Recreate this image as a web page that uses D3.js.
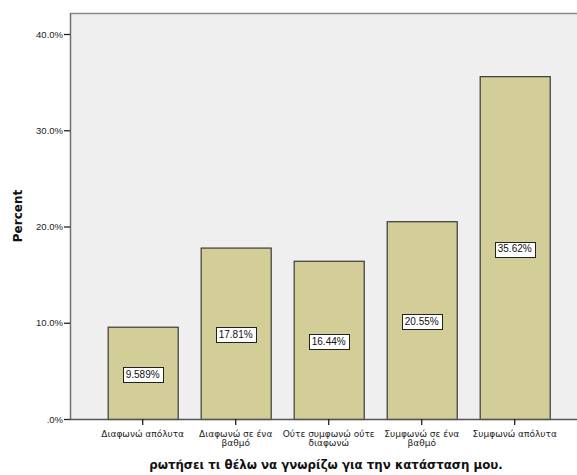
<!DOCTYPE html>
<html><head><meta charset="utf-8">
<script src="https://cdn.jsdelivr.net/npm/d3@7"></script>
<style>body{margin:0;background:#fff}svg{display:block}</style>
</head><body>
<script>
const categories = ["Διαφωνώ απόλυτα", "Διαφωνώ σε ένα βαθμό", "Ούτε συμφωνώ ούτε διαφωνώ", "Συμφωνώ σε ένα βαθμό", "Συμφωνώ απόλυτα"];
const categoryLines = [["Διαφωνώ απόλυτα"], ["Διαφωνώ σε ένα", "βαθμό"], ["Ούτε συμφωνώ ούτε", "διαφωνώ"], ["Συμφωνώ σε ένα", "βαθμό"], ["Συμφωνώ απόλυτα"]];
const values = [9.589, 17.81, 16.44, 20.55, 35.62];
const valueLabels = ["9.589%", "17.81%", "16.44%", "20.55%", "35.62%"];
const yTicks = [0, 10, 20, 30, 40];
const yTickLabels = [".0%", "10.0%", "20.0%", "30.0%", "40.0%"];
const yTitle = "Percent";
const xTitle = "ρωτήσει τι θέλω να γνωρίζω για την κατάσταση μου.";

const W = 577, H = 475;
const LIB = "'Liberation Sans', Arial, sans-serif";
const DJV = "'DejaVu Sans', sans-serif";
const svg = d3.select("body").append("svg").attr("width", W).attr("height", H);

const y = d3.scaleLinear().domain([0, 40]).range([419, 34]);
const x = d3.scaleBand().domain(categories).range([70, 587.4]).paddingInner(0.247).paddingOuter(0.405);
const frameTop = 13;

// plot background
svg.append("rect").attr("x", 70).attr("y", frameTop).attr("width", W - 70 + 5).attr("height", y(0) - frameTop)
  .attr("fill", "#efefef");
svg.append("line").attr("x1", 70).attr("x2", W).attr("y1", frameTop + 0.5).attr("y2", frameTop + 0.5)
  .attr("stroke", "#8a8a8a").attr("stroke-width", 1.5);

// bars
svg.selectAll("rect.bar").data(values).enter().append("rect").attr("class", "bar")
  .attr("x", (d, i) => x(categories[i]) + 0.5)
  .attr("y", d => y(d) + 0.5)
  .attr("width", x.bandwidth())
  .attr("height", d => y(0) - y(d))
  .attr("fill", "#d3ce97").attr("stroke", "#3a3a3a").attr("stroke-width", 1.2);

// y axis
const yAxis = d3.axisLeft(y).tickValues(yTicks).tickSize(6).tickPadding(1)
  .tickFormat((d, i) => yTickLabels[i]);
const gy = svg.append("g").attr("transform", "translate(70,0)").call(yAxis);
gy.select(".domain").attr("d", `M0.5,${frameTop}V${y(0)}`).attr("stroke", "#6e6e6e").attr("stroke-width", 1.5);
gy.selectAll(".tick line").attr("stroke", "#222").attr("stroke-width", 1.3);
gy.selectAll(".tick text").style("font-size", "9.5px").attr("fill", "#222").style("font-family", LIB);

// x axis
const xAxis = d3.axisBottom(x).tickSize(6).tickFormat("");
const gx = svg.append("g").attr("transform", `translate(0,${y(0)})`).call(xAxis);
gx.select(".domain").attr("d", `M70,0.5H${W}`).attr("stroke", "#555").attr("stroke-width", 1.5);
gx.selectAll(".tick line").attr("stroke", "#222").attr("stroke-width", 1.3);

// category labels
categories.forEach((c, i) => {
  const t = svg.append("text").attr("x", x(c) + x.bandwidth() / 2).attr("y", 437)
    .attr("text-anchor", "middle").style("font-size", "9px").attr("fill", "#222")
    .style("font-family", DJV);
  categoryLines[i].forEach((ln, j) => {
    t.append("tspan").attr("x", x(c) + x.bandwidth() / 2).attr("dy", j === 0 ? 0 : 9).text(ln);
  });
});

// value labels
values.forEach((v, i) => {
  const cx = x(categories[i]) + x.bandwidth() / 2;
  const cy = (y(v) + y(0)) / 2 + 1.5;
  const g = svg.append("g");
  const t = g.append("text").attr("x", cx).attr("y", cy + 3.4).attr("text-anchor", "middle")
    .style("font-size", "10px").style("font-family", LIB).attr("fill", "#111").text(valueLabels[i]);
  const bw = t.node().getComputedTextLength() + 6;
  g.insert("rect", "text").attr("x", Math.round(cx - bw / 2) + 0.5).attr("y", Math.round(cy - 7.5) + 0.5)
    .attr("width", Math.round(bw)).attr("height", 15)
    .attr("fill", "#fff").attr("stroke", "#222").attr("stroke-width", 1);
});

// titles
svg.append("text").attr("transform", `translate(22,216) rotate(-90)`).attr("text-anchor", "middle")
  .style("font-size", "12px").style("font-weight", "bold").attr("fill", "#111")
  .style("font-family", DJV).text(yTitle);
svg.append("text").attr("x", 326).attr("y", 469).attr("text-anchor", "middle")
  .style("font-size", "11.8px").style("font-weight", "bold").attr("fill", "#111")
  .style("font-family", DJV).text(xTitle);
</script>
</body></html>
